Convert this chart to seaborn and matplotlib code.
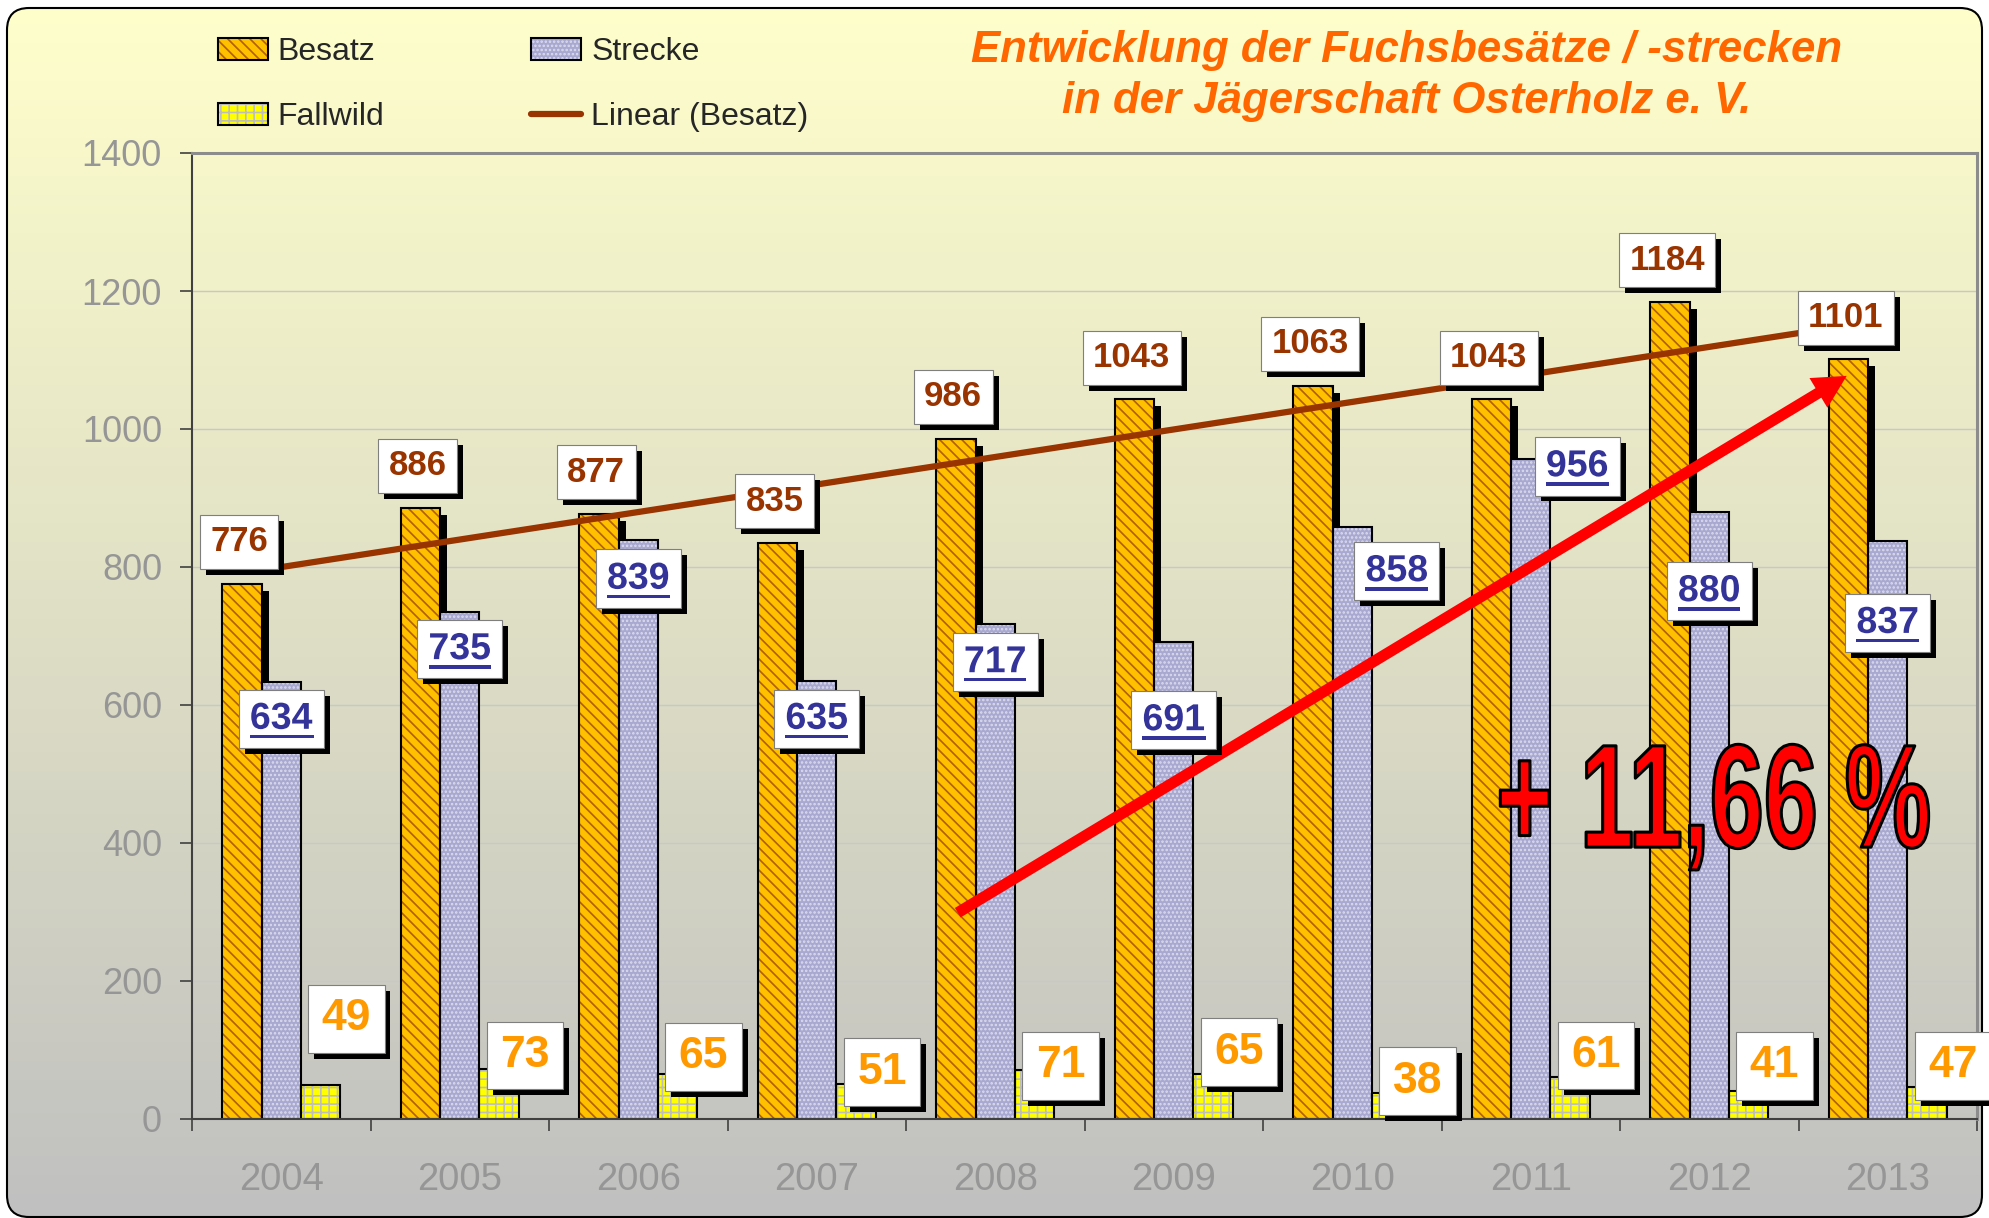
import numpy as np
import pandas as pd
import matplotlib
matplotlib.use("Agg")
import matplotlib.pyplot as plt
import matplotlib.patheffects as pe
from matplotlib.patches import Rectangle, FancyBboxPatch, Patch, FancyArrowPatch
from matplotlib.lines import Line2D
from matplotlib.path import Path
from matplotlib.transforms import Affine2D, offset_copy
import seaborn as sns

# ------------------------------------------------------------
# data
# ------------------------------------------------------------
years = ['2004', '2005', '2006', '2007', '2008', '2009', '2010', '2011', '2012', '2013']
besatz = [776, 886, 877, 835, 986, 1043, 1063, 1043, 1184, 1101]
strecke = [634, 735, 839, 635, 717, 691, 858, 956, 880, 837]
fallwild = [49, 73, 65, 51, 71, 65, 38, 61, 41, 47]
series = ['Besatz', 'Strecke', 'Fallwild']
y_ticks = [0, 200, 400, 600, 800, 1000, 1200, 1400]

# value boxes were placed by hand in the original -> label centres
strecke_lbl_y = [580, 681, 783, 580, 662, 578, 794, 946, 765, 719]
strecke_lbl_dx = [0, 0, 0, 0, 0, 0, 0.25, 0.26, 0, 0]
fall_lbl_y = [145, 92, 90, 68, 77, 97, 55, 92, 77, 77]

W, H = 1989, 1218

sns.set_theme(style='white')
plt.rcParams['font.family'] = ['Liberation Sans', 'DejaVu Sans']
plt.rcParams['hatch.linewidth'] = 1.2


# ------------------------------------------------------------
# helpers: underline / squeezed text, per-artist hatch width
# ------------------------------------------------------------
def _bounds(tpath, affine):
    v = affine.transform(tpath.vertices)
    if tpath.codes is not None:
        m = (tpath.codes != Path.CLOSEPOLY) & (tpath.codes != Path.STOP)
        v = v[m]
    return v[:, 0].min(), v[:, 0].max(), v[:, 1].min(), v[:, 1].max()


class Underline(pe.AbstractPathEffect):
    def __init__(self, gap=5.5, thick=3.5, ext=1.5):
        super().__init__()
        self.gap, self.thick, self.ext = gap, thick, ext

    def draw_path(self, renderer, gc, tpath, affine, rgbFace=None):
        renderer.draw_path(gc, tpath, affine, rgbFace)
        x0, x1, y0, _ = _bounds(tpath, affine)
        top = y0 - self.gap
        rect = Path([[x0 - self.ext, top], [x1 + self.ext, top],
                     [x1 + self.ext, top - self.thick], [x0 - self.ext, top - self.thick],
                     [x0 - self.ext, top]], closed=True)
        renderer.draw_path(gc, rect, Affine2D(), rgbFace)


class Squeeze(pe.AbstractPathEffect):
    # squeeze glyphs horizontally towards the right edge of the string
    def __init__(self, sx, lw, fg):
        super().__init__()
        self.sx, self.lw, self.fg = sx, lw, fg

    def draw_path(self, renderer, gc, tpath, affine, rgbFace=None):
        _, x1, _, _ = _bounds(tpath, affine)
        aff = affine + Affine2D().translate(-x1, 0).scale(self.sx, 1).translate(x1, 0)
        gc0 = renderer.new_gc()
        gc0.copy_properties(gc)
        gc0.set_linewidth(self.lw)
        gc0.set_foreground(self.fg)
        renderer.draw_path(gc0, tpath, aff, rgbFace)
        gc0.restore()


def hatch_lw(artist, lw):
    orig = artist.draw

    def draw(renderer, _o=orig):
        with plt.rc_context({'hatch.linewidth': lw}):
            _o(renderer)
    artist.draw = draw


# ------------------------------------------------------------
# figure + rounded gradient background
# ------------------------------------------------------------
fig = plt.figure(figsize=(W / 100, H / 100), dpi=100)
fig.patch.set_facecolor('white')

bg = fig.add_axes([0, 0, 1, 1], zorder=-5)
bg.set_xlim(0, W)
bg.set_ylim(0, H)
bg.axis('off')
g = np.linspace(0, 1, 256)[:, None, None]
c_top = np.array([255, 255, 204]) / 255
c_bot = np.array([192, 192, 192]) / 255
grad = c_top * (1 - g) + c_bot * g
im = bg.imshow(grad, extent=[0, W, 0, H], aspect='auto', origin='upper')
frame = FancyBboxPatch((7, 1), W - 14, H - 9, boxstyle='round,pad=0,rounding_size=22',
                       fc='none', ec='black', lw=1.5)
bg.add_patch(frame)
im.set_clip_path(frame)

ax = fig.add_axes([192 / W, (H - 1119) / H, (1977 - 192) / W, (1119 - 153) / H])
ax.patch.set_alpha(0)

# ------------------------------------------------------------
# bars
# ------------------------------------------------------------
df = pd.DataFrame({
    'Jahr': years * 3,
    'Reihe': [s for s in series for _ in years],
    'Wert': besatz + strecke + fallwild,
})
sns.barplot(data=df, x='Jahr', y='Wert', hue='Reihe', hue_order=series,
            palette=['#FFC000', '#A8A8D0', '#FFFF00'], width=0.66, gap=0,
            saturation=1, errorbar=None, legend=False, ax=ax)

styles = {
    'Besatz': dict(fc='#FFC000', hatch='\\\\\\', hc='#B06000', hlw=1.2),
    'Strecke': dict(fc='#A8A8D0', hatch='....', hc='#DCDCEE', hlw=0.4),
    'Fallwild': dict(fc='#FFFF00', hatch='++', hc='#BEBEBE', hlw=3.0),
}
shadow_tr = offset_copy(ax.transData, fig=fig, x=7, y=-7, units='dots')
for name, cont in zip(series, ax.containers):
    st = styles[name]
    for bar in cont:
        x0, y0, w, h = bar.get_x(), bar.get_y(), bar.get_width(), bar.get_height()
        bar.set_facecolor(st['fc'])
        bar.set_edgecolor(st['hc'])
        bar.set_linewidth(0)
        bar.set_hatch(st['hatch'])
        bar.set_zorder(2)
        hatch_lw(bar, st['hlw'])
        ax.add_patch(Rectangle((x0, y0), w, h, fill=False, ec='black', lw=1.5, zorder=2.1))
        if name == 'Besatz':
            ax.add_patch(Rectangle((x0, y0), w, h, fc='black', ec='none', zorder=1.5,
                                   transform=shadow_tr))

# linear trend of Besatz
sns.regplot(x=np.arange(len(years)), y=np.array(besatz), scatter=False, ci=None,
            truncate=True, ax=ax, line_kws=dict(color='#993300', lw=4.5, zorder=3))

# ------------------------------------------------------------
# axes styling
# ------------------------------------------------------------
ax.set_xlim(-0.5, 9.5)
ax.set_ylim(0, 1400)
ax.set_xlabel('')
ax.set_ylabel('')
ax.set_xticks(range(len(years)))
ax.set_xticklabels(years)
ax.set_xticks(np.arange(-0.5, len(years) + 0.5, 1), minor=True)
ax.tick_params(axis='x', which='major', length=0, pad=31, labelsize=27.5, labelcolor='#969696')
ax.tick_params(axis='x', which='minor', length=8.6, width=1.2, color='#404040',
               direction='out', bottom=True)
ax.set_yticks(y_ticks)
ax.tick_params(axis='y', length=8.6, width=1.2, color='#404040', direction='out',
               pad=13, labelsize=26, labelcolor='#969696', left=True)
ax.grid(axis='y', color='#C8C8C8', lw=1)
ax.grid(axis='x', visible=False)
ax.set_axisbelow(True)
for s in ['left', 'bottom']:
    ax.spines[s].set_color('#404040')
    ax.spines[s].set_linewidth(1.5)
for s in ['top', 'right']:
    ax.spines[s].set_visible(True)
    ax.spines[s].set_color('#8C8C8C')
    ax.spines[s].set_linewidth(2.2)

# ------------------------------------------------------------
# value boxes
# ------------------------------------------------------------
def box():
    return dict(boxstyle='square,pad=0.3', fc='white', ec='#7F7F7F', lw=0.8)


def add_shadow(t):
    t.get_bbox_patch().set_path_effects(
        [pe.SimplePatchShadow(offset=(4.3, -4.3), shadow_rgbFace='black', alpha=1), pe.Normal()])


for i in range(len(years)):
    b = ax.containers[0][i]
    cx = b.get_x() + b.get_width() / 2
    t = ax.annotate(str(besatz[i]), xy=(cx, besatz[i]), xytext=(-2, 30),
                    textcoords='offset points', ha='center', va='center', fontsize=25,
                    fontweight='bold', color='#993300', bbox=box(), zorder=6,
                    annotation_clip=False)
    add_shadow(t)

    b = ax.containers[1][i]
    cx = b.get_x() + b.get_width() / 2 + strecke_lbl_dx[i]
    t = ax.text(cx, strecke_lbl_y[i], str(strecke[i]), ha='center', va='center', fontsize=27,
                fontweight='bold', color='#333399', bbox=box(), zorder=6,
                path_effects=[Underline()])
    add_shadow(t)

    b = ax.containers[2][i]
    cx = b.get_x() + b.get_width() / 2
    t = ax.annotate(str(fallwild[i]), xy=(cx, fall_lbl_y[i]), xytext=(18.7, 0),
                    textcoords='offset points', ha='center', va='center', fontsize=32,
                    fontweight='bold', color='#FF9900', bbox=box(), zorder=6,
                    annotation_clip=False)
    add_shadow(t)

# red arrow and percentage
ax.add_patch(FancyArrowPatch((3.79, 299), (8.77, 1077),
                             arrowstyle='simple,head_length=0.95,head_width=1.0,tail_width=0.32',
                             mutation_scale=25, color='#FF0000', lw=0, shrinkA=0, shrinkB=0,
                             zorder=4))
ax.text(9.25, 394, '+ 11,66 %', ha='right', va='baseline', fontsize=106, fontweight='bold',
        color='#FF0000', zorder=5, path_effects=[Squeeze(0.66, 2.2, 'black')])

# ------------------------------------------------------------
# legend + title
# ------------------------------------------------------------
h_bes = (Patch(fc='#FFC000', ec='#B06000', hatch='\\\\\\', lw=0), Patch(fill=False, ec='black', lw=1.5))
h_fal = (Patch(fc='#FFFF00', ec='#BEBEBE', hatch='++', lw=0), Patch(fill=False, ec='black', lw=1.5))
h_str = (Patch(fc='#A8A8D0', ec='#DCDCEE', hatch='....', lw=0), Patch(fill=False, ec='black', lw=1.5))
h_lin = Line2D([], [], color='#993300', lw=4.5, solid_capstyle='round')
leg = fig.legend(handles=[h_bes, h_fal, h_str, h_lin],
                 labels=['Besatz', 'Fallwild', 'Strecke', 'Linear (Besatz)'],
                 ncol=2, loc='upper left', bbox_to_anchor=(218 / W, 1 - 37 / H), frameon=False,
                 fontsize=23, handlelength=1.56, handleheight=0.7, handletextpad=0.31,
                 columnspacing=4.6, labelspacing=1.1, borderpad=0, borderaxespad=0)
for p in leg.get_patches():
    if p.get_hatch() == '++':
        hatch_lw(p, 3.0)

title_kw = dict(ha='center', va='baseline', fontsize=31.5, fontweight='bold',
                fontstyle='italic', color='#FF6600')
fig.text(1407 / W, 1 - 62 / H, 'Entwicklung der Fuchsbesätze / -strecken', **title_kw)
fig.text(1407 / W, 1 - 113 / H, 'in der Jägerschaft Osterholz e. V.', **title_kw)

fig.savefig('out.png', dpi=100)
